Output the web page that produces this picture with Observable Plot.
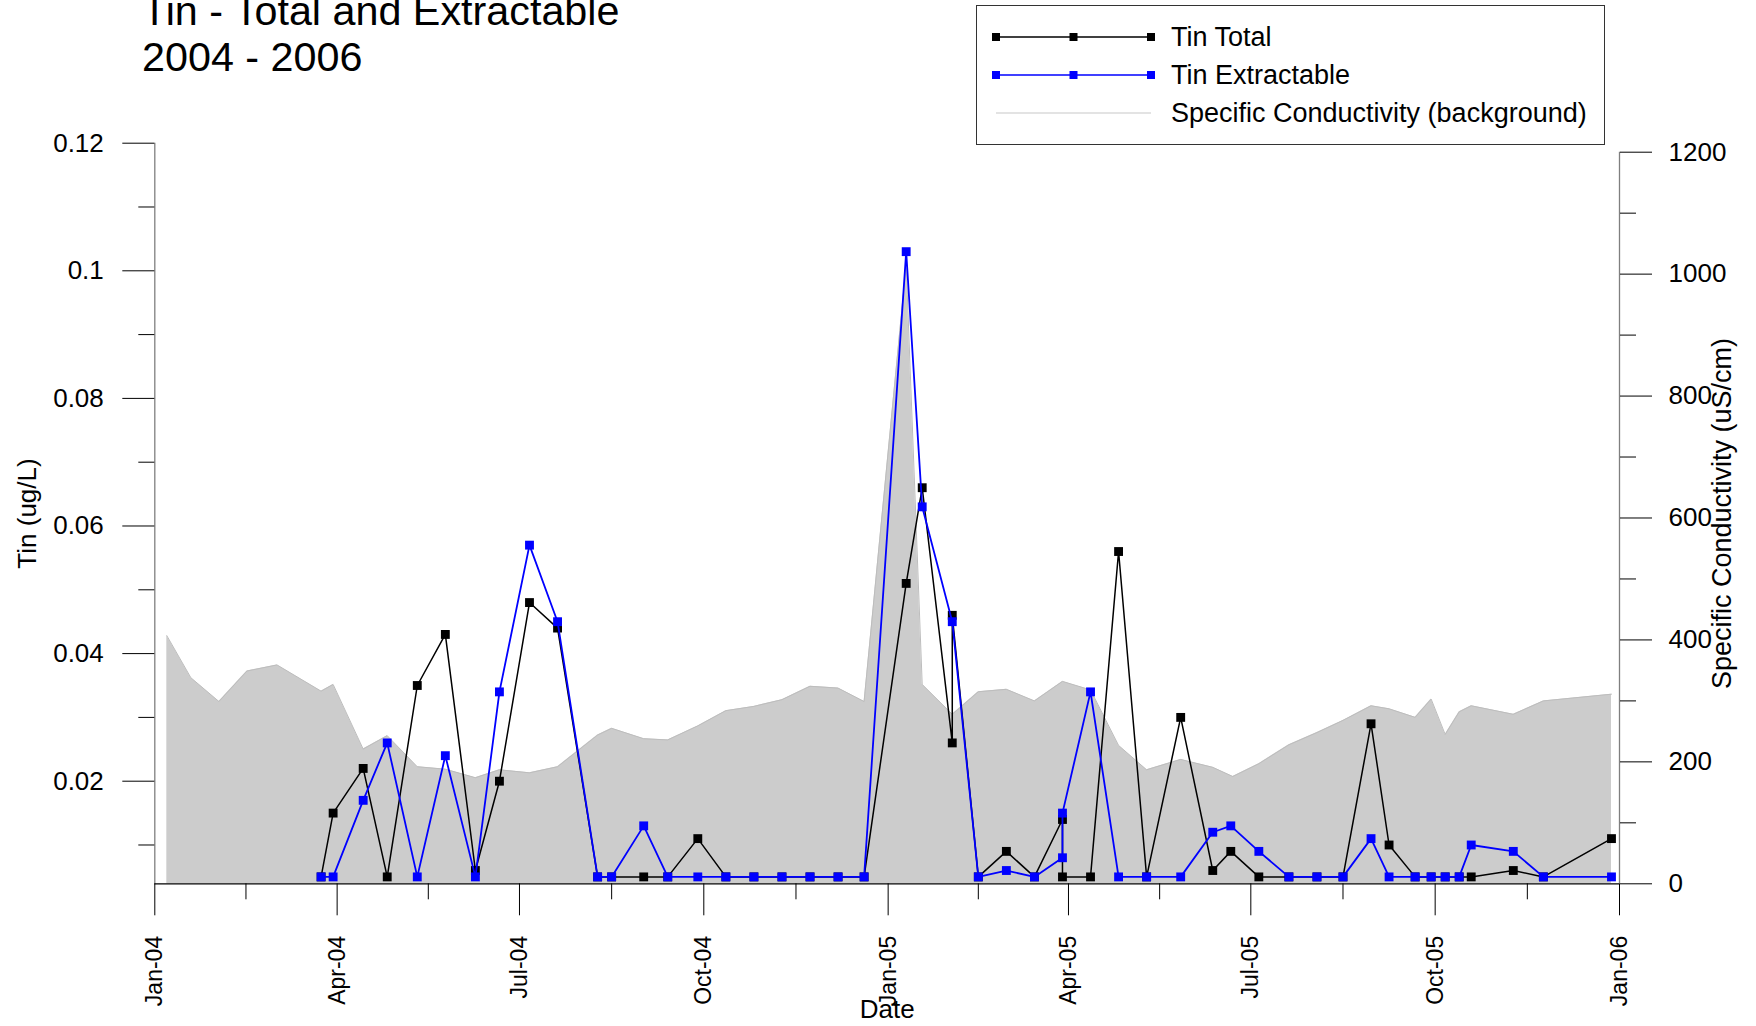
<!DOCTYPE html>
<html>
<head>
<meta charset="utf-8">
<script src="https://cdn.jsdelivr.net/npm/d3@7"></script>
<script src="https://cdn.jsdelivr.net/npm/@observablehq/plot@0.6"></script>
<style>
  html, body { margin: 0; padding: 0; background: #fff; }
  body { font-family: "Liberation Sans", Arial, Helvetica, sans-serif; }
  #wrap { position: relative; width: 1756px; height: 1026px; overflow: hidden; background: #fff; }
  #chart { position: absolute; left: 0; top: 0; }
  #title { position: absolute; left: 142px; top: -12.5px; font-size: 41.3px; line-height: 46px; color: #000; white-space: nowrap; }
  #legend { position: absolute; left: 976px; top: 5px; width: 629px; height: 140px; border: 1px solid #333; box-sizing: border-box; background: #fff; }
  .row { position: absolute; left: 0; height: 30px; width: 100%; }
  .row svg { position: absolute; left: 14px; top: 0; }
  .row span { position: absolute; left: 194px; top: 0; line-height: 30px; font-size: 27px; color: #000; white-space: nowrap; }
</style>
</head>
<body>
<div id="wrap">
  <div id="chart"></div>
  <div id="title">Tin - Total and Extractable<br>2004 - 2006</div>
  <div id="legend"></div>
</div>
<script>
// ---- Data ----
const totalDates = ["2004-03-24","2004-03-30","2004-04-14","2004-04-26","2004-05-11","2004-05-25","2004-06-09","2004-06-21","2004-07-06","2004-07-20",
  "2004-08-09","2004-08-16","2004-09-01","2004-09-13","2004-09-28","2004-10-12","2004-10-26","2004-11-09","2004-11-23","2004-12-07","2004-12-20",
  "2005-01-10","2005-01-18","2005-02-02","2005-02-02","2005-02-15","2005-03-01","2005-03-15","2005-03-29","2005-03-29","2005-04-12","2005-04-26",
  "2005-05-10","2005-05-27","2005-06-12","2005-06-21","2005-07-05","2005-07-20","2005-08-03","2005-08-16","2005-08-30","2005-09-08","2005-09-21",
  "2005-09-29","2005-10-06","2005-10-13","2005-10-19","2005-11-09","2005-11-24","2005-12-28"];
const totalValues = [0.005,0.015,0.022,0.005,0.035,0.043,0.006,0.020,0.048,0.044,
  0.005,0.005,0.005,0.005,0.011,0.005,0.005,0.005,0.005,0.005,0.005,
  0.051,0.066,0.026,0.046,0.005,0.009,0.005,0.014,0.005,0.005,0.056,
  0.005,0.030,0.006,0.009,0.005,0.005,0.005,0.005,0.029,0.010,0.005,
  0.005,0.005,0.005,0.005,0.006,0.005,0.011];

const extDates = ["2004-03-24","2004-03-30","2004-04-14","2004-04-26","2004-05-11","2004-05-25","2004-06-09","2004-06-21","2004-07-06","2004-07-20",
  "2004-08-09","2004-08-16","2004-09-01","2004-09-13","2004-09-28","2004-10-12","2004-10-26","2004-11-09","2004-11-23","2004-12-07","2004-12-20",
  "2005-01-10","2005-01-18","2005-02-02","2005-02-15","2005-03-01","2005-03-15","2005-03-29","2005-03-29","2005-04-12","2005-04-26",
  "2005-05-10","2005-05-27","2005-06-12","2005-06-21","2005-07-05","2005-07-20","2005-08-03","2005-08-16","2005-08-30","2005-09-08","2005-09-21",
  "2005-09-29","2005-10-06","2005-10-13","2005-10-19","2005-11-09","2005-11-24","2005-12-28"];
const extValues = [0.005,0.005,0.017,0.026,0.005,0.024,0.005,0.034,0.057,0.045,
  0.005,0.005,0.013,0.005,0.005,0.005,0.005,0.005,0.005,0.005,0.005,
  0.103,0.063,0.045,0.005,0.006,0.005,0.008,0.015,0.034,0.005,
  0.005,0.005,0.012,0.013,0.009,0.005,0.005,0.005,0.011,0.005,0.005,
  0.005,0.005,0.005,0.010,0.009,0.005,0.005];

const condDates = ["2004-01-07","2004-01-19","2004-02-02","2004-02-16","2004-03-02","2004-03-24","2004-03-30","2004-04-14","2004-04-26","2004-05-11",
  "2004-05-25","2004-06-09","2004-06-21","2004-07-06","2004-07-20","2004-08-09","2004-08-16","2004-09-01","2004-09-13","2004-09-28",
  "2004-10-12","2004-10-26","2004-11-09","2004-11-23","2004-12-07","2004-12-20","2005-01-10","2005-01-18","2005-02-02","2005-02-15",
  "2005-03-01","2005-03-15","2005-03-29","2005-04-12","2005-04-26","2005-05-10","2005-05-27","2005-06-12","2005-06-22","2005-07-05",
  "2005-07-20","2005-08-03","2005-08-16","2005-08-30","2005-09-08","2005-09-21","2005-09-29","2005-10-06","2005-10-13","2005-10-19",
  "2005-11-09","2005-11-24","2005-12-28"];
const condValues = [407,338,299,349,359,316,327,221,243,192,
  188,174,187,182,192,244,255,238,236,259,
  284,291,302,324,321,299,1015,327,278,315,
  319,300,332,318,227,187,204,191,176,197,
  228,248,268,292,287,273,303,245,282,292,
  278,300,311];

const leftMajorTicks = [0.02, 0.04, 0.06, 0.08, 0.1, 0.12];
const leftMinorTicks = [0.01, 0.03, 0.05, 0.07, 0.09, 0.11];
const rightMajorTicks = [0, 200, 400, 600, 800, 1000, 1200];
const rightMinorTicks = [100, 300, 500, 700, 900, 1100];

const seriesNames = ["Tin Total", "Tin Extractable", "Specific Conductivity (background)"];
const seriesColors = ["#000000", "#0000ff", "#c8c8c8"];

// ---- Build ----
const parse = d3.utcParse("%Y-%m-%d");
const totalData = totalDates.map((d, i) => ({date: parse(d), value: totalValues[i]}));
const extData = extDates.map((d, i) => ({date: parse(d), value: extValues[i]}));
const condData = condDates.map((d, i) => ({date: parse(d), value: condValues[i]}));

// secondary axis: conductivity mapped onto the tin scale
const V0 = 0.003918, K = 9.556e-5;
const conv = c => V0 + c * K;
const inv = v => Math.round((v - V0) / K);

const xStart = new Date(Date.UTC(2004, 0, 1));
const xEnd = new Date(Date.UTC(2006, 0, 1));
const majorX = d3.utcMonth.every(3).range(xStart, new Date(Date.UTC(2006, 0, 2)));
const minorX = majorX.slice(0, -1).map((d, i) => new Date((+d + +majorX[i + 1]) / 2));
const fmtX = d3.utcFormat("%b-%y");

const chart = Plot.plot({
  width: 1756,
  height: 1026,
  marginLeft: 154.3,
  marginRight: 137,
  marginTop: 142.7,
  marginBottom: 142.7,
  x: {type: "utc", domain: [xStart, xEnd]},
  y: {domain: [V0, 0.12]},
  style: {fontFamily: '"Liberation Sans", Arial, sans-serif', fontSize: "23px", color: "black", background: "transparent", overflow: "visible"},
  marks: [
    Plot.areaY(condData, {x: "date", y1: () => V0, y2: d => conv(d.value), fill: "#cccccc", curve: "linear"}),
    Plot.line(condData, {x: "date", y: d => conv(d.value), stroke: "#bdbdbd", strokeWidth: 1}),
    Plot.ruleX([xStart], {y1: () => V0, y2: () => 0.12, stroke: "#7f7f7f", strokeWidth: 1.3}),
    Plot.ruleX([xEnd], {y1: () => V0, y2: () => conv(1200), stroke: "#7f7f7f", strokeWidth: 1.3}),
    Plot.ruleY([V0], {x1: () => xStart, x2: () => xEnd, stroke: "black", strokeWidth: 1.3}),
    Plot.axisY(leftMajorTicks, {anchor: "left", tickSize: 32, tickPadding: 19, label: null, tickFormat: d => String(d), fontSize: 26}),
    Plot.axisY(leftMinorTicks, {anchor: "left", tickSize: 16, label: null, tickFormat: () => ""}),
    Plot.axisY(rightMajorTicks.map(conv), {anchor: "right", tickSize: 32, tickPadding: 17, label: null, tickFormat: d => String(inv(d)), fontSize: 26}),
    Plot.axisY(rightMinorTicks.map(conv), {anchor: "right", tickSize: 16, label: null, tickFormat: () => ""}),
    Plot.axisX(majorX, {anchor: "bottom", tickSize: 32, tickPadding: 20, tickRotate: -90, label: null, tickFormat: fmtX, fontSize: 23}),
    Plot.axisX(minorX, {anchor: "bottom", tickSize: 16, label: null, tickFormat: () => ""}),
    Plot.line(totalData, {x: "date", y: "value", stroke: seriesColors[0], strokeWidth: 1.5}),
    Plot.dot(totalData, {x: "date", y: "value", symbol: "square", r: 5, fill: seriesColors[0], stroke: "none"}),
    Plot.line(extData, {x: "date", y: "value", stroke: seriesColors[1], strokeWidth: 1.8}),
    Plot.dot(extData, {x: "date", y: "value", symbol: "square", r: 5, fill: seriesColors[1], stroke: "none"}),
    Plot.text(["Tin (ug/L)"], {text: d => d, frameAnchor: "left", textAnchor: "middle", dx: -127, rotate: -90, fontSize: 26}),
    Plot.text(["Specific Conductivity (uS/cm)"], {text: d => d, frameAnchor: "right", textAnchor: "middle", dx: 103, rotate: -90, fontSize: 27}),
    Plot.text(["Date"], {text: d => d, frameAnchor: "bottom", lineAnchor: "middle", dy: 126, fontSize: 26})
  ]
});
document.getElementById("chart").appendChild(chart);

// ---- Legend ----
const legend = document.getElementById("legend");
const rowCenters = [31, 69, 107];
seriesNames.forEach((name, i) => {
  const row = document.createElement("div");
  row.className = "row";
  row.style.top = (rowCenters[i] - 15) + "px";
  const ns = "http://www.w3.org/2000/svg";
  const svg = document.createElementNS(ns, "svg");
  svg.setAttribute("width", 170);
  svg.setAttribute("height", 30);
  const line = document.createElementNS(ns, "line");
  line.setAttribute("x1", 5); line.setAttribute("x2", 160);
  line.setAttribute("y1", 15); line.setAttribute("y2", 15);
  line.setAttribute("stroke", seriesColors[i]);
  line.setAttribute("stroke-width", i === 2 ? 1.2 : 1.6);
  svg.appendChild(line);
  if (i < 2) {
    [5, 82.5, 160].forEach(cx => {
      const r = document.createElementNS(ns, "rect");
      r.setAttribute("x", cx - 4); r.setAttribute("y", 11);
      r.setAttribute("width", 8); r.setAttribute("height", 8);
      r.setAttribute("fill", seriesColors[i]);
      svg.appendChild(r);
    });
  }
  row.appendChild(svg);
  const span = document.createElement("span");
  span.textContent = name;
  row.appendChild(span);
  legend.appendChild(row);
});
</script>
</body>
</html>
